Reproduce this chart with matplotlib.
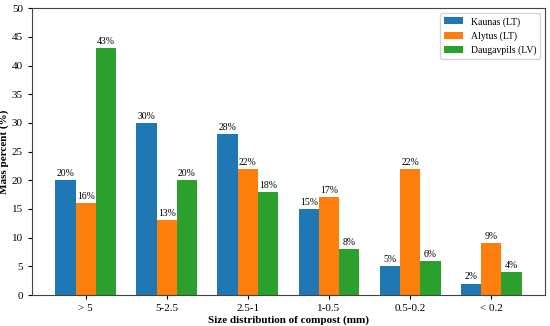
import matplotlib.pyplot as plt
import numpy as np

plt.rcParams['font.family'] = ['Liberation Serif', 'DejaVu Serif']

categories = ['> 5', '5-2.5', '2.5-1', '1-0.5', '0.5-0.2', '< 0.2']
kaunas = [20, 30, 28, 15, 5, 2]
alytus = [16, 13, 22, 17, 22, 9]
daugavpils = [43, 20, 18, 8, 6, 4]
series = [('Kaunas (LT)', kaunas, '#1f77b4'),
          ('Alytus (LT)', alytus, '#ff7f0e'),
          ('Daugavpils (LV)', daugavpils, '#2ca02c')]

fig = plt.figure(figsize=(5.5, 3.26), dpi=100)
ax = fig.add_axes([0.058, 0.095, 0.933, 0.88])

x = np.arange(len(categories))
w = 0.25
for i, (name, vals, col) in enumerate(series):
    bars = ax.bar(x + (i - 1) * w, vals, w, label=name, color=col)
    ax.bar_label(bars, labels=[f'{v}%' for v in vals], padding=1.5, fontsize=7)

ax.set_ylim(0, 50)
ax.set_yticks(range(0, 51, 5))
ax.set_xticks(x)
ax.set_xticklabels(categories)
ax.tick_params(labelsize=8, length=3, width=0.8)
ax.set_xlabel('Size distribution of compost (mm)', fontsize=8, fontweight='bold', labelpad=2)
ax.set_ylabel('Mass percent (%)', fontsize=8, fontweight='bold', labelpad=2)
for s in ax.spines.values():
    s.set_linewidth(0.8)
    s.set_color('#444444')
ax.legend(fontsize=7, loc='upper right')

fig.savefig('out.png', dpi=100)
